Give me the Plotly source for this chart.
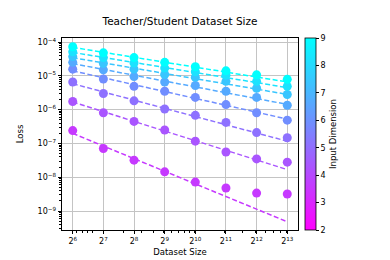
import numpy as np
import plotly.graph_objects as go
from plotly.colors import sample_colorscale

# ---- data ----
dataset_sizes = [64, 128, 256, 512, 1024, 2048, 4096, 8192]
input_dims = [2, 3, 4, 5, 6, 7, 8, 9]
loss_d2 = [2.4e-7, 7.1e-8, 3.2e-8, 1.45e-8, 7.2e-9, 4.8e-9, 3.4e-9, 3.2e-9]
loss_d3 = [1.74e-6, 8.1e-7, 4.5e-7, 2.5e-7, 1.17e-7, 5.6e-8, 3.5e-8, 2.8e-8]
loss_d4 = [6.6e-6, 3.0e-6, 1.82e-6, 1.05e-6, 6.8e-7, 4.2e-7, 2.1e-7, 1.48e-7]
loss_d5 = [1.58e-5, 8.1e-6, 4.9e-6, 3.5e-6, 2.3e-6, 1.41e-6, 8.1e-7, 4.9e-7]
loss_d6 = [2.51e-5, 1.51e-5, 9.5e-6, 6.6e-6, 5.2e-6, 3.5e-6, 2.3e-6, 1.35e-6]
loss_d7 = [3.72e-5, 2.34e-5, 1.58e-5, 1.10e-5, 9.1e-6, 6.9e-6, 4.3e-6, 2.8e-6]
loss_d8 = [5.13e-5, 3.47e-5, 2.40e-5, 1.70e-5, 1.32e-5, 1.05e-5, 6.9e-6, 4.9e-6]
loss_d9 = [7.24e-5, 4.79e-5, 3.47e-5, 2.51e-5, 1.86e-5, 1.41e-5, 1.07e-5, 7.9e-6]
x_tick_labels = ["2<sup>%d</sup>" % k for k in range(6, 14)]
y_tick_vals = [1e-9, 1e-8, 1e-7, 1e-6, 1e-5, 1e-4]
y_tick_labels = ["10<sup>\u2212%d</sup>" % k for k in range(9, 3, -1)]
fit_points = 5  # power-law fit uses the smallest dataset sizes

series = [loss_d2, loss_d3, loss_d4, loss_d5, loss_d6, loss_d7, loss_d8, loss_d9]

cmin, cmax = 2, 9
cool_r = [[0.0, "rgb(255,0,255)"], [1.0, "rgb(0,255,255)"]]

fig = go.Figure()
xs = np.array(dataset_sizes, dtype=float)
for d, ys in zip(input_dims, series):
    # marker colours in the source are taken as cmap(d / max_dim)
    col = sample_colorscale(cool_r, [d / max(input_dims)])[0]
    lx = np.log2(xs[:fit_points])
    ly = np.log10(np.array(ys[:fit_points]))
    b, a = np.polyfit(lx, ly, 1)
    fit_y = 10 ** (a + b * np.log2(xs))
    fig.add_trace(go.Scatter(
        x=dataset_sizes, y=ys, mode="markers",
        marker=dict(size=9, color=col, line=dict(width=0)),
        showlegend=False, hoverinfo="skip"))
    fig.add_trace(go.Scatter(
        x=dataset_sizes, y=fit_y, mode="lines",
        line=dict(color=col, width=1.5, dash="5px,2.5px"),
        showlegend=False, hoverinfo="skip"))

# invisible trace carrying the colour bar
fig.add_trace(go.Scatter(
    x=[dataset_sizes[0]], y=[loss_d9[0]], mode="markers",
    marker=dict(size=0.1, opacity=0, color=[cmin], coloraxis="coloraxis"),
    showlegend=False, hoverinfo="skip"))

minor_x = [v for e in range(1, 4) for v in [m * 10 ** e for m in range(1, 10)] if 64 < v < 8192]
minor_y = [m * 10.0 ** e for e in range(-10, -3) for m in range(2, 10)]

axis_common = dict(
    showline=True, linecolor="black", linewidth=0.8, mirror=True,
    ticks="outside", ticklen=3.5, tickwidth=0.8, tickcolor="black",
    showgrid=True, gridcolor="#c4c4c4", gridwidth=0.8, zeroline=False,
    tickfont=dict(family="DejaVu Sans", size=8, color="black"),
)

fig.update_layout(
    width=390, height=260, autosize=False,
    margin=dict(l=49, r=100, t=30, b=33),
    paper_bgcolor="white", plot_bgcolor="white",
    font=dict(family="DejaVu Sans", color="black"),
    title=dict(text="Teacher/Student Dataset Size", x=0.5, xref="paper",
               xanchor="center", y=1 - 13 / 260, yref="container", yanchor="middle",
               font=dict(size=10.5, family="DejaVu Sans", color="black")),
    xaxis=dict(type="log", range=[np.log10(2 ** 5.65), np.log10(2 ** 13.35)],
               tickmode="array", tickvals=dataset_sizes, ticktext=x_tick_labels,
               title=dict(text="Dataset Size", font=dict(size=8.5, color="black"), standoff=4),
               minor=dict(tickmode="array", tickvals=minor_x, ticks="outside",
                          ticklen=2, tickcolor="black", showgrid=False),
               **axis_common),
    yaxis=dict(type="log", range=[-9.56, -3.88],
               tickmode="array", tickvals=y_tick_vals, ticktext=y_tick_labels,
               title=dict(text="Loss", font=dict(size=8.5, color="black"), standoff=12),
               minor=dict(tickmode="array", tickvals=minor_y, ticks="outside",
                          ticklen=2, tickcolor="black", showgrid=False),
               **axis_common),
    coloraxis=dict(
        cmin=cmin, cmax=cmax, colorscale=cool_r,
        colorbar=dict(
            x=(297 - 49) / 241, xanchor="left", xref="paper", xpad=0,
            y=0.5, yanchor="middle", len=1, lenmode="fraction", ypad=0,
            thickness=11, outlinewidth=0.8, outlinecolor="black",
            tickmode="array", tickvals=list(range(2, 10)),
            ticks="outside", ticklen=3, tickwidth=0.8, tickcolor="black",
            tickfont=dict(size=8, family="DejaVu Sans", color="black"),
            title=dict(text="Input Dimension", side="right",
                       font=dict(size=8.5, family="DejaVu Sans", color="black")),
        ),
    ),
)

fig.write_html("out.html")
